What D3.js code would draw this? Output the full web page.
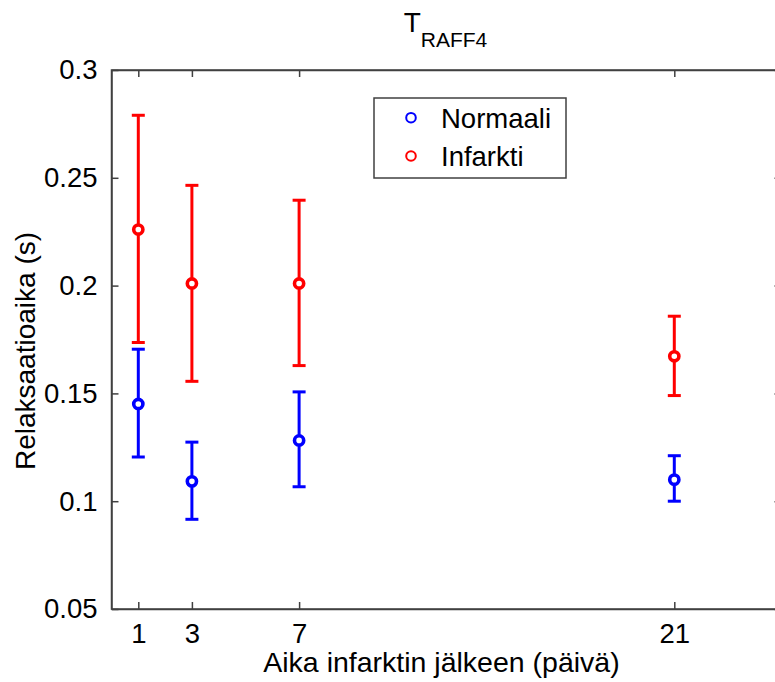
<!DOCTYPE html>
<html><head><meta charset="utf-8">
<script src="https://cdn.jsdelivr.net/npm/d3@7"></script>
<style>body{margin:0;background:#fff;} svg{display:block;} text{font-family:"Liberation Sans",Arial,sans-serif;fill:#000;}</style>
</head><body>
<svg id="c" width="775" height="682"></svg>
<script>
const days = [1, 3, 7, 21];
const xTicks = [1, 3, 7, 21];
const yTicks = [0.05, 0.1, 0.15, 0.2, 0.25, 0.3];
const yTickLabels = ["0.05", "0.1", "0.15", "0.2", "0.25", "0.3"];
const normaaliMean = [0.1451, 0.1092, 0.1282, 0.1100];
const normaaliLow  = [0.1205, 0.0916, 0.1067, 0.1000];
const normaaliHigh = [0.1705, 0.1274, 0.1507, 0.1211];
const infarktiMean = [0.2260, 0.2010, 0.2010, 0.1672];
const infarktiLow  = [0.1736, 0.1556, 0.1629, 0.1490];
const infarktiHigh = [0.2790, 0.2465, 0.2396, 0.1858];
const seriesNames = ["Normaali", "Infarkti"];
const seriesColors = ["#0000ff", "#ff0000"];

const svg = d3.select("#c");
const L = 111.5, R = 781.5, T = 70, B = 609;
const x = d3.scaleLinear().domain([0, 25]).range([L, R]);
const y = d3.scaleLinear().domain([0.05, 0.3]).range([B, T]);
const axisCol = "#404040";

// box
svg.append("rect").attr("x", L).attr("y", T).attr("width", R - L).attr("height", B - T)
  .attr("fill", "none").attr("stroke", axisCol).attr("stroke-width", 1.5);

const tl = 7;
// axes
const xAxis = svg.append("g").attr("transform", `translate(0,${B})`)
  .call(d3.axisBottom(x).tickValues(xTicks).tickFormat(d3.format("d")).tickSizeInner(-tl).tickSizeOuter(0).tickPadding(14));
const xAxisTop = svg.append("g").attr("transform", `translate(0,${T})`)
  .call(d3.axisTop(x).tickValues(xTicks).tickFormat("").tickSizeInner(-tl).tickSizeOuter(0));
const yAxis = svg.append("g").attr("transform", `translate(${L},0)`)
  .call(d3.axisLeft(y).tickValues(yTicks).tickFormat((d, i) => yTickLabels[i]).tickSizeInner(-tl).tickSizeOuter(0).tickPadding(14));
const yAxisR = svg.append("g").attr("transform", `translate(${R},0)`)
  .call(d3.axisRight(y).tickValues(yTicks).tickFormat("").tickSizeInner(-tl).tickSizeOuter(0));
[xAxis, xAxisTop, yAxis, yAxisR].forEach(g => {
  g.select(".domain").attr("stroke", axisCol).attr("stroke-width", 1.5);
  g.selectAll(".tick line").attr("stroke", axisCol).attr("stroke-width", 1.5);
  g.selectAll("text").attr("font-size", 27.5).attr("fill", "#000")
    .style("font-family", '"Liberation Sans",Arial,sans-serif');
});
xAxis.selectAll("text").attr("dy", "0.71em");

// data
const series = [
  {mean: normaaliMean, low: normaaliLow, high: normaaliHigh},
  {mean: infarktiMean, low: infarktiLow, high: infarktiHigh}
];
const capW = 6.5;
series.forEach((s, si) => {
  const g = svg.append("g").attr("stroke", seriesColors[si]).attr("stroke-width", 3).attr("fill", "none");
  days.forEach((d, i) => {
    const cx = x(d);
    g.append("line").attr("x1", cx).attr("x2", cx).attr("y1", y(s.low[i])).attr("y2", y(s.high[i]));
    g.append("line").attr("x1", cx - capW).attr("x2", cx + capW).attr("y1", y(s.low[i])).attr("y2", y(s.low[i]));
    g.append("line").attr("x1", cx - capW).attr("x2", cx + capW).attr("y1", y(s.high[i])).attr("y2", y(s.high[i]));
    g.append("circle").attr("cx", cx).attr("cy", y(s.mean[i])).attr("r", 4.6).attr("fill", "#fff").attr("stroke-width", 3.6);
  });
});

// title
const title = svg.append("text").attr("x", 445.5).attr("y", 32).attr("text-anchor", "middle").attr("font-size", 28);
title.append("tspan").text("T");
title.append("tspan").attr("font-size", 21).attr("dy", 15).text("RAFF4");

// axis labels
svg.append("text").attr("x", 441.5).attr("y", 672).attr("text-anchor", "middle").attr("font-size", 28.5)
  .text("Aika infarktin jälkeen (päivä)");
svg.append("text").attr("transform", "translate(35,351) rotate(-90)").attr("text-anchor", "middle").attr("font-size", 28)
  .text("Relaksaatioaika (s)");

// legend
const lg = svg.append("g");
lg.append("rect").attr("x", 374).attr("y", 98).attr("width", 192).attr("height", 80)
  .attr("fill", "#fff").attr("stroke", axisCol).attr("stroke-width", 1.5);
seriesNames.forEach((n, i) => {
  const yy = 117.7 + i * 38.3;
  lg.append("circle").attr("cx", 411).attr("cy", yy).attr("r", 4.8).attr("fill", "none")
    .attr("stroke", seriesColors[i]).attr("stroke-width", 2);
  lg.append("text").attr("x", 441).attr("y", yy).attr("dy", "0.36em").attr("font-size", 27.5).text(n);
});
</script>
</body></html>
